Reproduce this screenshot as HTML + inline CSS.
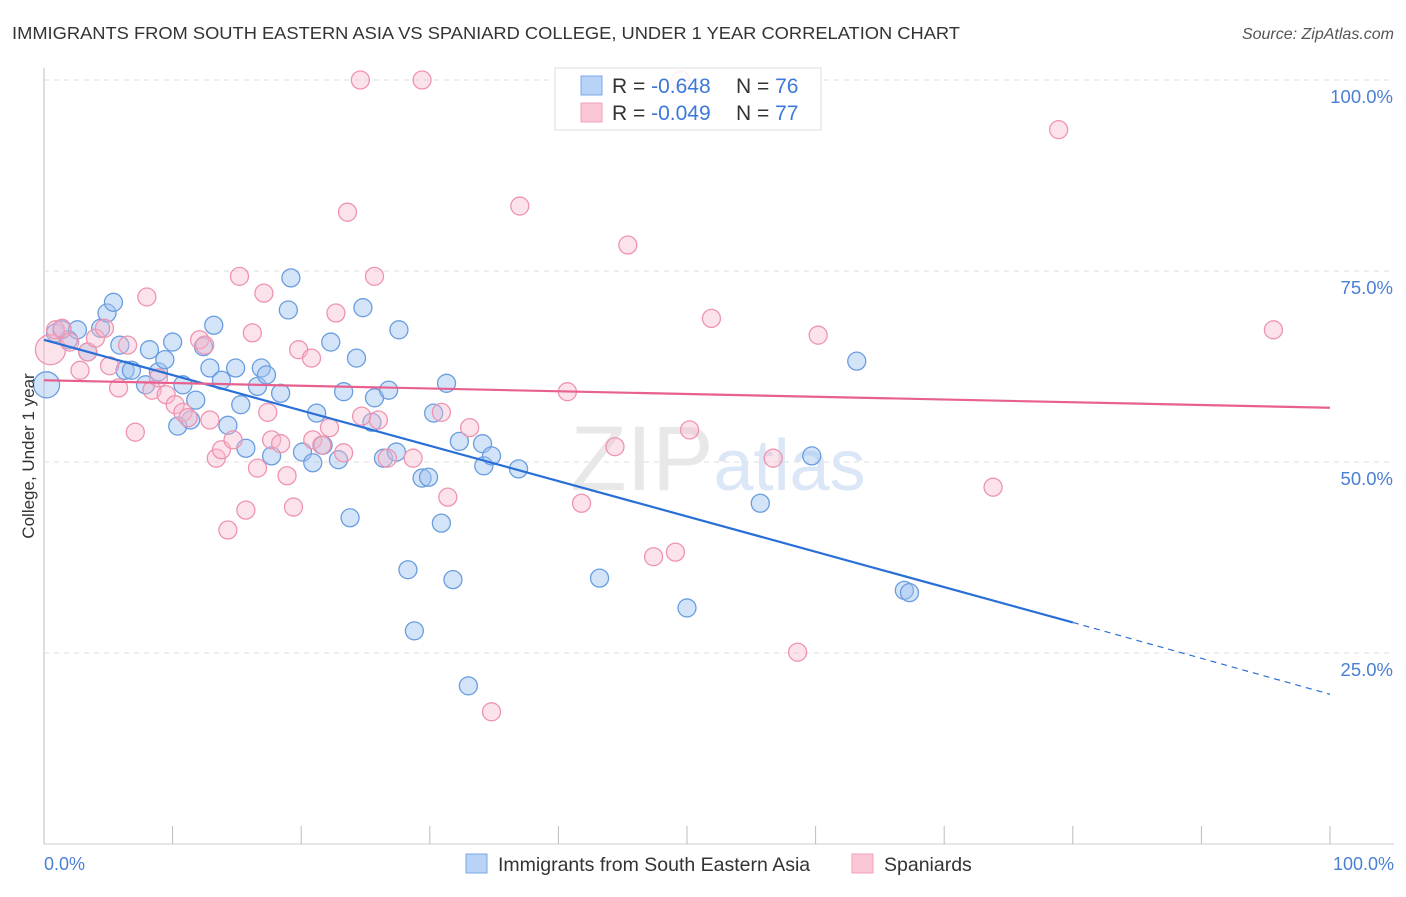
<!DOCTYPE html>
<html><head><meta charset="utf-8"><style>
body{margin:0;background:#fff;font-family:"Liberation Sans",sans-serif;}
svg text{font-family:"Liberation Sans",sans-serif;}
</style></head><body>
<svg id="chart" width="1406" height="892" viewBox="0 0 1406 892" xmlns="http://www.w3.org/2000/svg">
<text x="12" y="39" font-size="17.5" fill="#333" textLength="948" lengthAdjust="spacingAndGlyphs">IMMIGRANTS FROM SOUTH EASTERN ASIA VS SPANIARD COLLEGE, UNDER 1 YEAR CORRELATION CHART</text>
<text x="1394" y="39" font-size="16" fill="#555" text-anchor="end" font-style="italic">Source: ZipAtlas.com</text>
<g id="grid"></g>
<text x="718" y="490" font-size="92" text-anchor="middle" fill="#e8e8e8" font-family="Liberation Serif, serif">ZIP<tspan fill="#dbe7f7" font-family="Liberation Sans, sans-serif" font-size="72">atlas</tspan></text>
<g id="points"></g>
<g id="lines"></g>
<text transform="translate(34,456) rotate(-90)" font-size="17" fill="#333" text-anchor="middle">College, Under 1 year</text>
<text x="44" y="870" font-size="18" fill="#4a7fd4">0.0%</text>
<text x="1394" y="870" font-size="18" fill="#4a7fd4" text-anchor="end">100.0%</text>
<g>
<rect x="555" y="68" width="266" height="62" fill="rgba(255,255,255,0.85)" stroke="#ddd"/>
<rect x="581" y="76" width="21" height="19" fill="#b9d3f6" stroke="#7aa8e6"/>
<rect x="581" y="103" width="21" height="19" fill="#fbc7d6" stroke="#f0a0b8"/>
<text x="612" y="93" font-size="21" fill="#333">R = <tspan fill="#3c78d8">-0.648</tspan></text>
<text x="736" y="93" font-size="21" fill="#333">N = <tspan fill="#3c78d8">76</tspan></text>
<text x="612" y="120" font-size="21" fill="#333">R = <tspan fill="#3c78d8">-0.049</tspan></text>
<text x="736" y="120" font-size="21" fill="#333">N = <tspan fill="#3c78d8">77</tspan></text>
</g>
<g>
<rect x="466" y="854" width="21" height="19" fill="#b9d3f6" stroke="#7aa8e6"/>
<text x="498" y="871" font-size="19.5" fill="#333">Immigrants from South Eastern Asia</text>
<rect x="852" y="854" width="21" height="19" fill="#fbc7d6" stroke="#f0a0b8"/>
<text x="884" y="871" font-size="19.5" fill="#333">Spaniards</text>
</g>
</svg>
<script>
const yTicks=[25,50,75,100];
const yTickLabels=["25.0%","50.0%","75.0%","100.0%"];
const xTicks=[0,10,20,30,40,50,60,70,80,90,100];
const blueX=[0.2,0.9,1.4,1.9,2.6,3.4,4.4,4.9,5.4,5.9,6.3,6.8,7.9,8.2,8.9,9.4,10.0,10.4,10.8,11.4,11.8,12.4,12.9,13.2,13.8,14.3,14.9,15.3,15.7,16.6,16.9,17.3,17.7,18.4,19.0,19.2,20.1,20.9,21.2,21.7,22.3,22.9,23.3,23.8,24.3,24.8,25.5,25.7,26.4,26.8,27.4,27.6,28.3,28.8,29.4,29.9,30.3,30.9,31.3,31.8,32.3,33.0,34.1,34.2,34.8,36.9,43.2,50.0,55.7,59.7,63.2,66.9,67.3];
const blueY=[60.1,66.9,67.3,66.0,67.3,64.4,67.5,69.5,70.9,65.3,62.0,62.0,60.1,64.7,61.8,63.4,65.7,54.7,60.1,55.5,58.1,65.1,62.3,67.9,60.7,54.8,62.3,57.5,51.8,59.9,62.3,61.4,50.8,59.0,69.9,74.1,51.3,49.9,56.4,52.2,65.7,50.3,59.2,42.7,63.6,70.2,55.2,58.4,50.5,59.4,51.3,67.3,35.9,27.9,47.9,48.0,56.4,42.0,60.3,34.6,52.7,20.7,52.4,49.5,50.8,49.1,34.8,30.9,44.6,50.8,63.2,33.2,32.9];
const pinkX=[0.5,0.9,1.4,2.0,2.8,3.4,4.0,4.7,5.1,5.8,6.5,7.1,8.0,8.4,8.9,9.5,10.2,10.8,11.2,12.1,12.5,12.9,13.4,13.8,14.3,14.7,15.2,15.7,16.2,16.6,17.1,17.4,17.7,18.4,18.9,19.4,19.8,20.8,20.9,21.6,22.2,22.7,23.3,23.6,24.6,24.7,25.7,26.0,26.7,28.7,29.4,30.9,31.4,33.1,34.8,37.0,40.7,41.8,44.4,45.4,47.4,49.1,50.2,51.9,56.7,58.6,60.2,73.8,78.9,95.6,49.5];
const pinkY=[64.7,67.3,67.5,65.7,62.0,64.4,66.2,67.5,62.6,59.7,65.3,53.9,71.6,59.4,61.0,58.8,57.5,56.5,55.8,66.0,65.3,55.5,50.5,51.6,41.1,52.9,74.3,43.7,66.9,49.2,72.1,56.5,52.9,52.4,48.2,44.1,64.7,63.6,52.9,52.2,54.5,69.5,51.2,82.7,100,56.0,74.3,55.5,50.5,50.5,100,56.5,45.4,54.5,17.3,83.5,59.2,44.6,52.0,78.4,37.6,38.2,54.2,68.8,50.5,25.1,66.6,46.7,93.5,67.3,100];
const blueTrendX=[0,80,100];
const blueTrendY=[66.0,29.0,19.6];
const pinkTrendX=[0,100];
const pinkTrendY=[60.7,57.1];
const NS="http://www.w3.org/2000/svg";
const sx=v=>44+v*12.86;
const sy=v=>844-v*7.64;
function mk(tag,attrs,parent){const e=document.createElementNS(NS,tag);for(const k in attrs)e.setAttribute(k,attrs[k]);parent.appendChild(e);return e;}
const grid=document.getElementById('grid');
let ax=mk('line',{x1:44,y1:68,x2:44,y2:844,stroke:'#bbb'},grid);


let bx=mk('line',{x1:44,y1:844,x2:1394,y2:844,stroke:'#ccc'},grid);


yTicks.forEach((t,i)=>{
 const g=mk('line',{x1:44,y1:sy(t),x2:1394,y2:sy(t),stroke:'#ddd','stroke-dasharray':'5,5'},grid);
 
 
 const l=mk('text',{x:1393,y:sy(t)+23,'font-size':18.5,fill:'#4a7fd4','text-anchor':'end'},grid);
 l.textContent=yTickLabels[i];
 
 
});
xTicks.forEach(t=>{
 const m=mk('line',{x1:sx(t),y1:826,x2:sx(t),y2:844,stroke:'#bbb'},grid);
 
 
});
const pts=document.getElementById('points');
blueX.forEach((x,i)=>{
 const r=i===0?13:9;
 const c=mk('circle',{cx:sx(x),cy:sy(blueY[i]),r:r,fill:'rgba(160,196,240,0.45)',stroke:'#6a9de0','stroke-width':1.3},pts);
 
 
});
pinkX.forEach((x,i)=>{
 const r=i===0?15:9;
 const c=mk('circle',{cx:sx(x),cy:sy(pinkY[i]),r:r,fill:'rgba(248,185,205,0.4)',stroke:'#ee94b0','stroke-width':1.3},pts);
 
 
});
const lines=document.getElementById('lines');
let b1=mk('line',{x1:sx(blueTrendX[0]),y1:sy(blueTrendY[0]),x2:sx(blueTrendX[1]),y2:sy(blueTrendY[1]),stroke:'#2a6fd6','stroke-width':2.2},lines);


let b2=mk('line',{x1:sx(blueTrendX[1]),y1:sy(blueTrendY[1]),x2:sx(blueTrendX[2]),y2:sy(blueTrendY[2]),stroke:'#2a6fd6','stroke-width':1.2,'stroke-dasharray':'6,5'},lines);


let p1=mk('line',{x1:sx(pinkTrendX[0]),y1:sy(pinkTrendY[0]),x2:sx(pinkTrendX[1]),y2:sy(pinkTrendY[1]),stroke:'#e8608e','stroke-width':2.2},lines);


</script>
</body></html>
